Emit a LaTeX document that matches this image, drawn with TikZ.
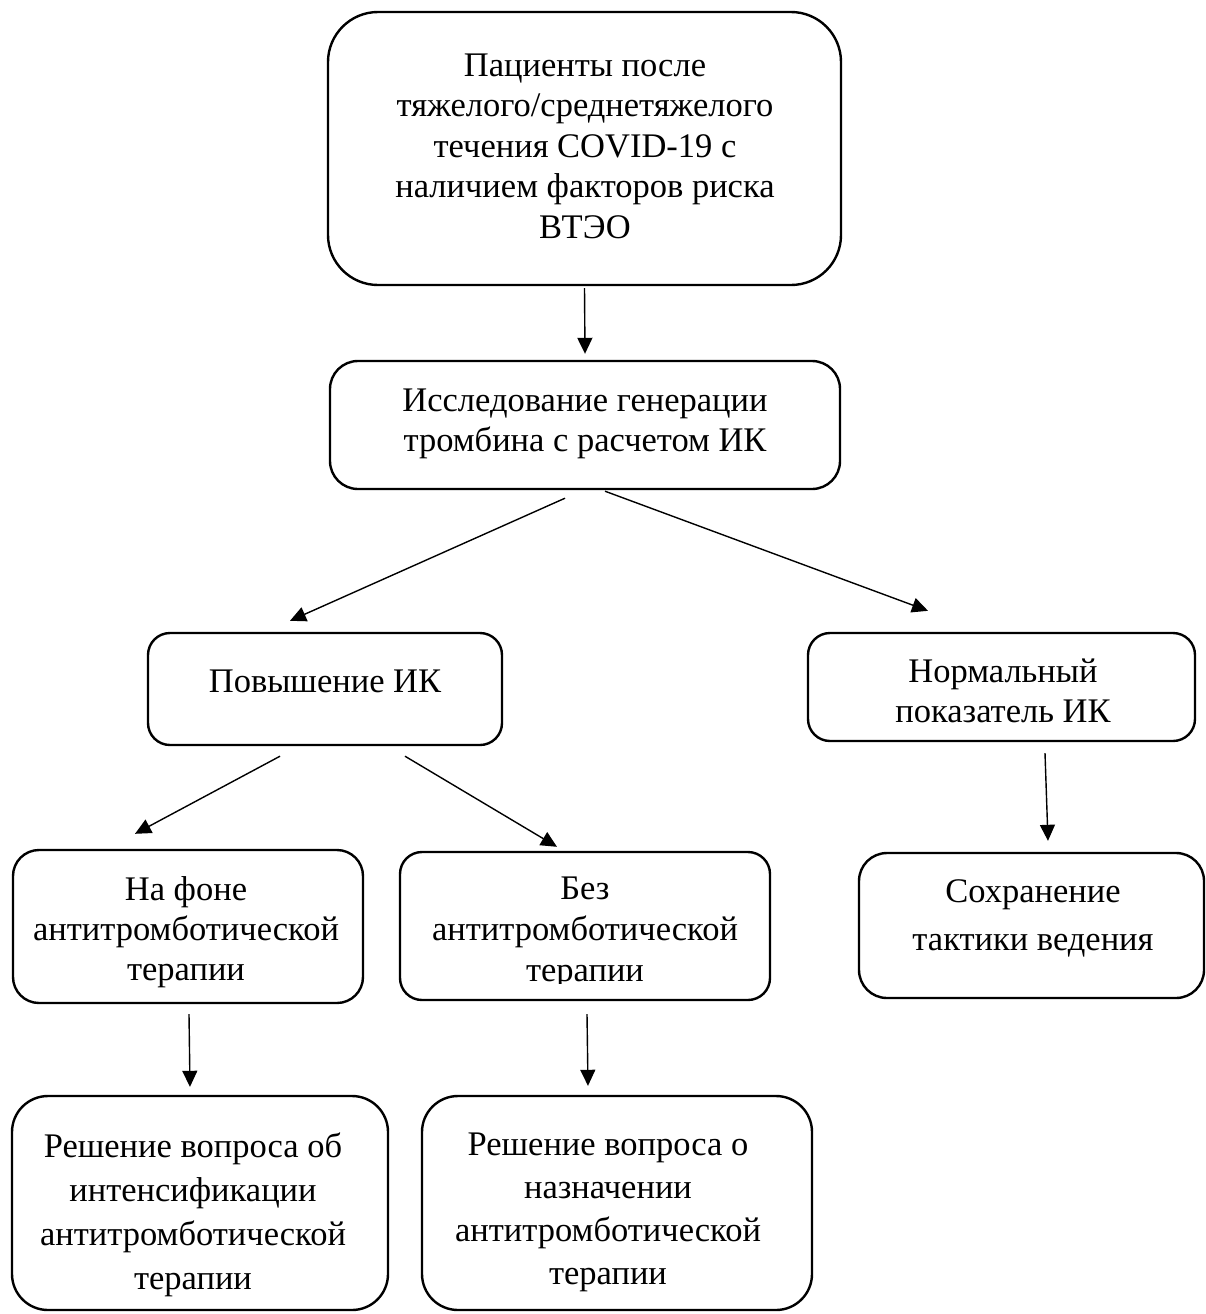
\documentclass[tikz,border=0pt]{standalone}
\usepackage{fontspec}
\setmainfont{Liberation Serif}
\usetikzlibrary{arrows.meta}
\begin{document}
\begin{tikzpicture}[x=1pt,y=-1pt,
  box/.style={draw,line width=2.4pt,rounded corners=#1,inner sep=0pt},
  box/.default=24pt,
  txt/.style={align=center,inner sep=0pt,font=\fontsize{34.5}{#1}\selectfont},
  txt/.default=41,
  arr/.style={line width=1.4pt,-{Triangle[length=16pt,width=15pt]}}]
\useasboundingbox (0,0) rectangle (1206,1314);
% boxes
\node[box=50pt,minimum width=513,minimum height=273] (b1) at (584.5,148.5) {};
\node[box=28pt,minimum width=510,minimum height=128] (b2) at (585,425) {};
\node[box=22pt,minimum width=354,minimum height=112] (b3) at (325,689) {};
\node[box=22pt,minimum width=387,minimum height=108] (b4) at (1001.5,687) {};
\node[box=26pt,minimum width=350,minimum height=153] (b5) at (188,926.5) {};
\node[box=22pt,minimum width=370,minimum height=148] (b6) at (585,926) {};
\node[box=28pt,minimum width=345,minimum height=145] (b7) at (1031.5,925.5) {};
\node[box=36pt,minimum width=376,minimum height=214] (b8) at (200,1203) {};
\node[box=36pt,minimum width=390,minimum height=214] (b9) at (617,1203) {};
% texts
\node[txt=40.5] (t1) at (585,146) {Пациенты после\\тяжелого/среднетяжелого\\течения COVID-19 с\\наличием факторов риска\\ВТЭО};
\node[txt=40] (t2) at (585,424) {Исследование генерации\\тромбина с расчетом ИК};
\node[txt] (t3) at (325,681) {Повышение ИК};
\node[txt=40] (t4) at (1003,691) {Нормальный\\показатель ИК};
\node[txt=40] (t5) at (186,932) {На фоне\\антитромботической\\терапии};
\begin{scope}
\clip (400,850) rectangle (772,983);
\node[txt=41] (t6) at (585,933) {Без\\антитромботической\\терапии};
\end{scope}
\node[txt=48] (t7) at (1033,918) {Сохранение\\тактики ведения};
\node[txt=44] (t8) at (193,1215) {Решение вопроса об\\интенсификации\\антитромботической\\терапии};
\node[txt=43] (t9) at (608,1212) {Решение вопроса о\\назначении\\антитромботической\\терапии};
% arrows
\draw[arr] ([yshift=-2pt]b1.south) -- ([yshift=6pt]b2.north);
\draw[arr] ([xshift=-20pt,yshift=-8pt]b2.south) -- ([xshift=-35pt,yshift=11pt]b3.north);
\draw[arr] ([xshift=20pt,yshift=-1pt]b2.south) -- ([xshift=-73.5pt,yshift=21pt]b4.north);
\draw[arr] ([xshift=-45pt,yshift=-10pt]b3.south) -- ([xshift=-53pt,yshift=15pt]b5.north);
\draw[arr] ([xshift=80pt,yshift=-10pt]b3.south) -- ([xshift=-28pt,yshift=4pt]b6.north);
\draw[arr] ([xshift=43.5pt,yshift=-11pt]b4.south) -- ([xshift=16.5pt,yshift=11pt]b7.north);
\draw[arr] ([xshift=1pt,yshift=-10pt]b5.south) -- ([xshift=-10pt,yshift=8pt]b8.north);
\draw[arr] ([xshift=2pt,yshift=-13pt]b6.south) -- ([xshift=-29pt,yshift=9pt]b9.north);
\end{tikzpicture}
\end{document}
